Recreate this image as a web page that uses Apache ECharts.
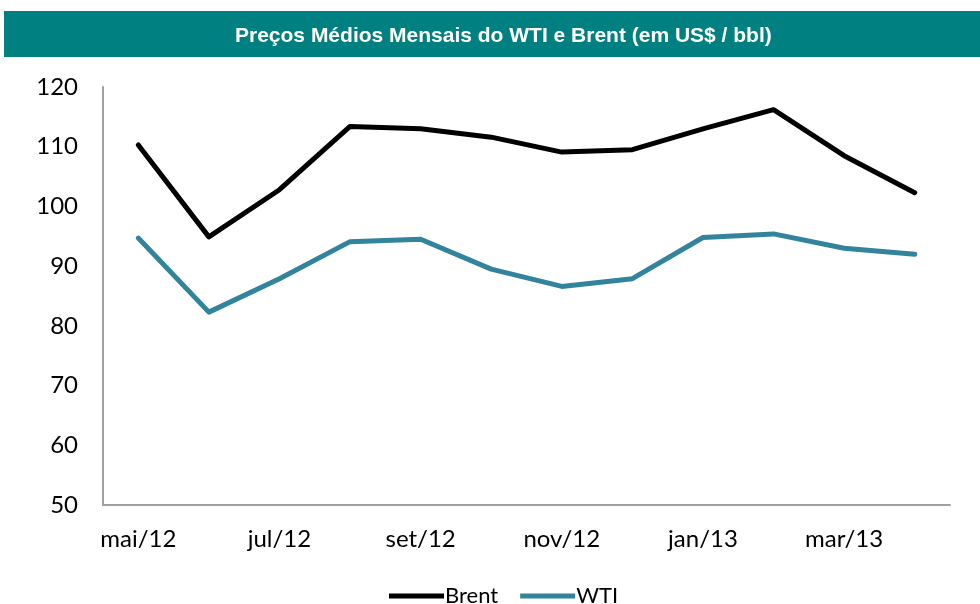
<!DOCTYPE html>
<html>
<head>
<meta charset="utf-8">
<script src="https://cdn.jsdelivr.net/npm/echarts@6/dist/echarts.min.js"></script>
<style>
  html, body { margin: 0; padding: 0; background: #fff; }
  #main { width: 980px; height: 604px; }
</style>
</head>
<body>
<div id="main"></div>
<script>
let months = ['mai/12', 'jun/12', 'jul/12', 'ago/12', 'set/12', 'out/12',
  'nov/12', 'dez/12', 'jan/13', 'fev/13', 'mar/13', 'abr/13'];
let brent = [110.3, 94.9, 102.8, 113.4, 113.0, 111.6, 109.1, 109.5, 113.0, 116.2, 108.5, 102.3];
let wti = [94.7, 82.3, 87.9, 94.1, 94.5, 89.5, 86.6, 87.9, 94.8, 95.4, 93.0, 92.0];

let chartDom = document.getElementById('main');
let myChart = echarts.init(chartDom);

let labelFont = 'Lato, "Open Sans", sans-serif';

let option = {
  backgroundColor: '#fff',
  animation: false,
  graphic: [
    {
      type: 'rect',
      left: 4, top: 11,
      shape: { width: 976, height: 46 },
      style: { fill: '#008080' },
      silent: true
    }
  ],
  title: {
    text: 'Preços Médios Mensais do WTI e Brent (em US$ / bbl)',
    left: 230,
    top: 21,
    textStyle: {
      color: '#fff',
      fontSize: 21,
      fontWeight: 'bold',
      fontFamily: '"Liberation Sans", Arial, sans-serif'
    }
  },
  legend: {
    top: 580,
    left: 384,
    icon: 'rect',
    itemWidth: 55,
    itemHeight: 5,
    itemGap: 22,
    textStyle: { fontSize: 22, color: '#000', fontFamily: labelFont, padding: [0, 0, 0, -4] },
    data: ['Brent', 'WTI']
  },
  grid: { left: 103, right: 30, top: 87, bottom: 99 },
  xAxis: {
    type: 'category',
    data: months,
    axisLine: { lineStyle: { color: '#a0a0a0', width: 2 } },
    axisTick: { show: false },
    axisLabel: {
      interval: 1,
      color: '#000',
      fontSize: 24,
      fontFamily: labelFont,
      margin: 22
    }
  },
  yAxis: {
    type: 'value',
    min: 50,
    max: 120,
    interval: 10,
    splitLine: { show: false },
    axisLine: { show: true, lineStyle: { color: '#a0a0a0', width: 2 } },
    axisTick: { show: false },
    axisLabel: { color: '#000', fontSize: 24, fontFamily: labelFont, margin: 25 }
  },
  series: [
    {
      name: 'Brent',
      type: 'line',
      data: brent,
      symbol: 'none',
      itemStyle: { color: '#000' },
      lineStyle: { color: '#000', width: 5, cap: 'round', join: 'round' }
    },
    {
      name: 'WTI',
      type: 'line',
      data: wti,
      symbol: 'none',
      itemStyle: { color: '#31849b' },
      lineStyle: { color: '#31849b', width: 5, cap: 'round', join: 'round' }
    }
  ]
};

option && myChart.setOption(option);
</script>
</body>
</html>
